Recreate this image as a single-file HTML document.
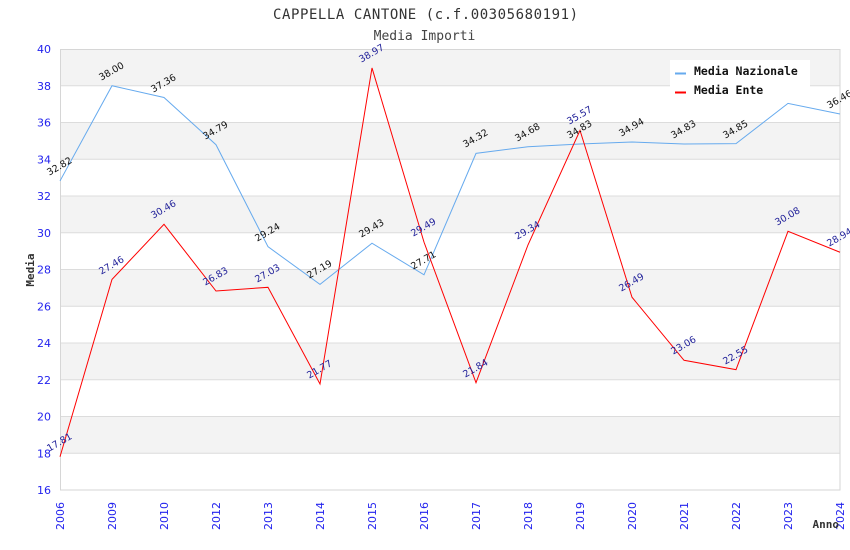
<!DOCTYPE html>
<html><head><meta charset="utf-8"><style>
html,body{margin:0;padding:0;background:#fff;}
svg{display:block;}
</style></head><body>
<svg width="850" height="550" viewBox="0 0 850 550" xmlns="http://www.w3.org/2000/svg">
<rect x="0" y="0" width="850" height="550" fill="#fff"/>
<!-- bands -->
<g fill="#f3f3f3">
<rect x="60" y="49" width="780" height="36.75"/>
<rect x="60" y="122.5" width="780" height="36.75"/>
<rect x="60" y="196" width="780" height="36.75"/>
<rect x="60" y="269.5" width="780" height="36.75"/>
<rect x="60" y="343" width="780" height="36.75"/>
<rect x="60" y="416.5" width="780" height="36.75"/>
</g>
<g stroke="#dcdcdc" stroke-width="1">
<line x1="60" y1="85.75" x2="840" y2="85.75"/>
<line x1="60" y1="122.5" x2="840" y2="122.5"/>
<line x1="60" y1="159.25" x2="840" y2="159.25"/>
<line x1="60" y1="196" x2="840" y2="196"/>
<line x1="60" y1="232.75" x2="840" y2="232.75"/>
<line x1="60" y1="269.5" x2="840" y2="269.5"/>
<line x1="60" y1="306.25" x2="840" y2="306.25"/>
<line x1="60" y1="343" x2="840" y2="343"/>
<line x1="60" y1="379.75" x2="840" y2="379.75"/>
<line x1="60" y1="416.5" x2="840" y2="416.5"/>
<line x1="60" y1="453.25" x2="840" y2="453.25"/>
</g>
<rect x="60.5" y="49.5" width="779.5" height="440.5" fill="none" stroke="#d6d6d6" stroke-width="1"/>

<!-- titles -->
<text x="425.5" y="19" text-anchor="middle" font-family="DejaVu Sans Mono, Liberation Mono, monospace" font-size="14" fill="#333" textLength="305" lengthAdjust="spacing">CAPPELLA CANTONE (c.f.00305680191)</text>
<text x="424.5" y="40" text-anchor="middle" font-family="DejaVu Sans Mono, Liberation Mono, monospace" font-size="13" fill="#444">Media Importi</text>

<!-- y ticks -->
<g font-family="DejaVu Sans, Liberation Sans, sans-serif" font-size="11" fill="#2323ee" text-anchor="end">
<text x="51" y="53">40</text>
<text x="51" y="89.75">38</text>
<text x="51" y="126.5">36</text>
<text x="51" y="163.25">34</text>
<text x="51" y="200">32</text>
<text x="51" y="236.75">30</text>
<text x="51" y="273.5">28</text>
<text x="51" y="310.25">26</text>
<text x="51" y="347">24</text>
<text x="51" y="383.75">22</text>
<text x="51" y="420.5">20</text>
<text x="51" y="457.25">18</text>
<text x="51" y="494">16</text>
</g>

<!-- x ticks -->
<g font-family="DejaVu Sans, Liberation Sans, sans-serif" font-size="11" fill="#2323ee" text-anchor="end">
<text x="64" y="502" transform="rotate(-90 64 502)">2006</text>
<text x="116" y="502" transform="rotate(-90 116 502)">2009</text>
<text x="168" y="502" transform="rotate(-90 168 502)">2010</text>
<text x="220" y="502" transform="rotate(-90 220 502)">2012</text>
<text x="272" y="502" transform="rotate(-90 272 502)">2013</text>
<text x="324" y="502" transform="rotate(-90 324 502)">2014</text>
<text x="376" y="502" transform="rotate(-90 376 502)">2015</text>
<text x="428" y="502" transform="rotate(-90 428 502)">2016</text>
<text x="480" y="502" transform="rotate(-90 480 502)">2017</text>
<text x="532" y="502" transform="rotate(-90 532 502)">2018</text>
<text x="584" y="502" transform="rotate(-90 584 502)">2019</text>
<text x="636" y="502" transform="rotate(-90 636 502)">2020</text>
<text x="688" y="502" transform="rotate(-90 688 502)">2021</text>
<text x="740" y="502" transform="rotate(-90 740 502)">2022</text>
<text x="792" y="502" transform="rotate(-90 792 502)">2023</text>
<text x="844" y="502" transform="rotate(-90 844 502)">2024</text>
</g>

<!-- axis titles -->
<text x="34" y="270" text-anchor="middle" transform="rotate(-90 34 270)" font-family="DejaVu Sans Mono, Liberation Mono, monospace" font-size="11" font-weight="bold" fill="#333">Media</text>
<text x="839" y="528" text-anchor="end" font-family="DejaVu Sans Mono, Liberation Mono, monospace" font-size="11" font-weight="bold" fill="#333">Anno</text>

<!-- series -->
<polyline fill="none" stroke="#66aaee" stroke-width="1" points="60,180.93 112,85.75 164,97.51 216,144.73 268,246.71 320,284.38 372,243.22 424,274.83 476,153.37 528,146.75 580,144 632,141.98 684,144 736,143.63 788,103.39 840,114.05"/>
<polyline fill="none" stroke="#ff0000" stroke-width="1" points="60,456.74 112,279.42 164,224.3 216,291 268,287.32 320,383.98 372,67.93 424,242.12 476,382.69 528,244.88 580,130.4 632,297.25 684,360.27 736,369.64 788,231.28 840,252.23"/>

<!-- nazionale labels -->
<g font-family="DejaVu Sans, Liberation Sans, sans-serif" font-size="9.5" fill="#111" text-anchor="middle">
<text x="61" y="169" transform="rotate(-30 61 169)">32.82</text>
<text x="113" y="74" transform="rotate(-30 113 74)">38.00</text>
<text x="165" y="86" transform="rotate(-30 165 86)">37.36</text>
<text x="217" y="133" transform="rotate(-30 217 133)">34.79</text>
<text x="269" y="235" transform="rotate(-30 269 235)">29.24</text>
<text x="321" y="272" transform="rotate(-30 321 272)">27.19</text>
<text x="373" y="231" transform="rotate(-30 373 231)">29.43</text>
<text x="425" y="263" transform="rotate(-30 425 263)">27.71</text>
<text x="477" y="141" transform="rotate(-30 477 141)">34.32</text>
<text x="529" y="135" transform="rotate(-30 529 135)">34.68</text>
<text x="581" y="132" transform="rotate(-30 581 132)">34.83</text>
<text x="633" y="130" transform="rotate(-30 633 130)">34.94</text>
<text x="685" y="132" transform="rotate(-30 685 132)">34.83</text>
<text x="737" y="132" transform="rotate(-30 737 132)">34.85</text>
<text x="841" y="102" transform="rotate(-30 841 102)">36.46</text>
</g>
<!-- ente labels -->
<g font-family="DejaVu Sans, Liberation Sans, sans-serif" font-size="9.5" fill="#22229a" text-anchor="middle">
<text x="61" y="445" transform="rotate(-30 61 445)">17.81</text>
<text x="113" y="268" transform="rotate(-30 113 268)">27.46</text>
<text x="165" y="212" transform="rotate(-30 165 212)">30.46</text>
<text x="217" y="279" transform="rotate(-30 217 279)">26.83</text>
<text x="269" y="276" transform="rotate(-30 269 276)">27.03</text>
<text x="321" y="372" transform="rotate(-30 321 372)">21.77</text>
<text x="373" y="56" transform="rotate(-30 373 56)">38.97</text>
<text x="425" y="230" transform="rotate(-30 425 230)">29.49</text>
<text x="477" y="371" transform="rotate(-30 477 371)">21.84</text>
<text x="529" y="233" transform="rotate(-30 529 233)">29.34</text>
<text x="581" y="118" transform="rotate(-30 581 118)">35.57</text>
<text x="633" y="285" transform="rotate(-30 633 285)">26.49</text>
<text x="685" y="348" transform="rotate(-30 685 348)">23.06</text>
<text x="737" y="358" transform="rotate(-30 737 358)">22.55</text>
<text x="789" y="219" transform="rotate(-30 789 219)">30.08</text>
<text x="841" y="240" transform="rotate(-30 841 240)">28.94</text>
</g>

<!-- legend -->
<rect x="670" y="60" width="140" height="39" fill="#fff"/>
<line x1="675" y1="73.5" x2="686" y2="73.5" stroke="#66aaee" stroke-width="2"/>
<line x1="675" y1="92.5" x2="686" y2="92.5" stroke="#ff0000" stroke-width="2"/>
<g font-family="DejaVu Sans Mono, Liberation Mono, monospace" font-size="11.5" font-weight="bold" fill="#111">
<text x="694" y="75">Media Nazionale</text>
<text x="694" y="94">Media Ente</text>
</g>
</svg>
</body></html>
